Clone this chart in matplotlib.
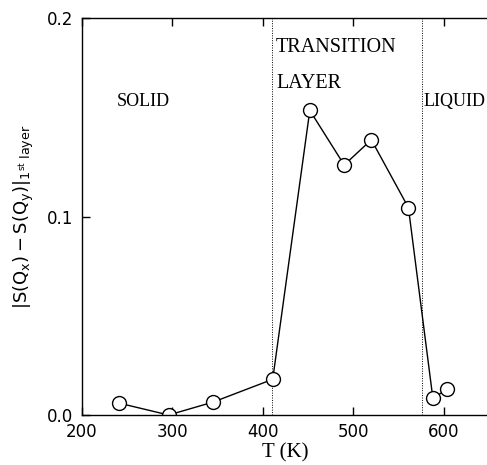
import matplotlib
matplotlib.use('Agg')
import matplotlib.pyplot as plt

# anisotropy of the first layer structure factor vs temperature
temp_k = [241, 296, 345, 411, 452, 490, 520, 561, 588, 604]
aniso = [0.006, 0.0, 0.0065, 0.018, 0.1535, 0.126, 0.1387, 0.1045, 0.0085, 0.013]

# phase boundaries (K)
boundaries = [410, 576]

plt.rcParams['mathtext.fontset'] = 'dejavusans'
plt.rcParams['mathtext.default'] = 'regular'

fig = plt.figure(figsize=(4.87, 4.65), dpi=100)
ax = fig.add_axes([0.168, 0.1075, 0.836, 0.8535])

for b in boundaries:
    ax.axvline(b, color='black', lw=0.7, ls=(0, (1, 1.5)))

ax.plot(temp_k, aniso, '-', color='black', lw=1.0,
        marker='o', ms=10, mfc='white', mec='black', mew=1.0)

ax.set_xlim(200, 650)
ax.set_ylim(0.0, 0.2)
ax.set_xticks([200, 300, 400, 500, 600])
ax.set_yticks([0.0, 0.1, 0.2])
ax.set_yticklabels(['0.0', '0.1', '0.2'])
ax.tick_params(direction='in', top=True, right=False, length=6, width=1,
               labelsize=12, pad=6)
for s in ax.spines.values():
    s.set_linewidth(1.0)
ax.spines['right'].set_visible(False)

serif = 'Liberation Serif'
ax.set_xlabel('T (K)', family=serif, fontsize=15, labelpad=1)
ax.set_ylabel(r'$|\mathrm{S(Q_x)-S(Q_y)}|_{1^{st}\ layer}$', fontsize=13, labelpad=8)

ax.text(268, 0.158, 'SOLID', family=serif, fontsize=13, ha='center', va='center')
ax.text(414, 0.185, 'TRANSITION', family=serif, fontsize=14.5, ha='left', va='center')
ax.text(415, 0.167, 'LAYER', family=serif, fontsize=14.5, ha='left', va='center')
ax.text(578, 0.158, 'LIQUID', family=serif, fontsize=13, ha='left', va='center')

fig.savefig('out.png', dpi=100)
